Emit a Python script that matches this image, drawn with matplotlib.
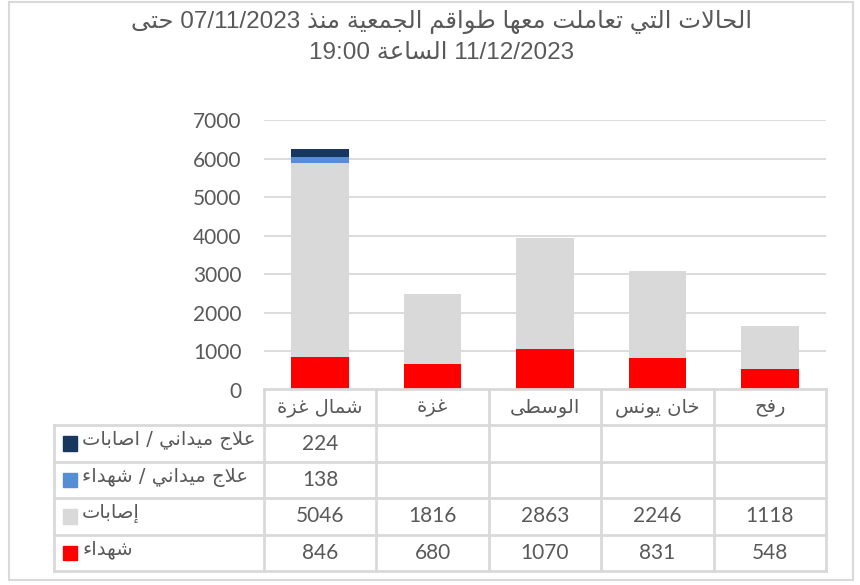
import matplotlib
matplotlib.use('Agg')
import matplotlib.pyplot as plt
from matplotlib.patches import Rectangle

# data
categories = ['شمال غزة', 'غزة', 'الوسطى', 'خان يونس', 'رفح']
shuhada = [846, 680, 1070, 831, 548]
isabat = [5046, 1816, 2863, 2246, 1118]
field_shuhada = [138, 0, 0, 0, 0]
field_isabat = [224, 0, 0, 0, 0]
series_names = ['علاج ميداني / اصابات', 'علاج ميداني / شهداء', 'إصابات', 'شهداء']
title_lines = ['الحالات التي تعاملت معها طواقم الجمعية منذ 07/11/2023 حتى',
               '11/12/2023 الساعة 19:00']
yticks = [0, 1000, 2000, 3000, 4000, 5000, 6000, 7000]

# --- minimal arabic shaping (no raqm in matplotlib) ---
ISO = {'ء': 0xFE80, 'آ': 0xFE81, 'أ': 0xFE83, 'ؤ': 0xFE85, 'إ': 0xFE87, 'ئ': 0xFE89,
       'ا': 0xFE8D, 'ب': 0xFE8F, 'ة': 0xFE93, 'ت': 0xFE95, 'ث': 0xFE99, 'ج': 0xFE9D,
       'ح': 0xFEA1, 'خ': 0xFEA5, 'د': 0xFEA9, 'ذ': 0xFEAB, 'ر': 0xFEAD, 'ز': 0xFEAF,
       'س': 0xFEB1, 'ش': 0xFEB5, 'ص': 0xFEB9, 'ض': 0xFEBD, 'ط': 0xFEC1, 'ظ': 0xFEC5,
       'ع': 0xFEC9, 'غ': 0xFECD, 'ف': 0xFED1, 'ق': 0xFED5, 'ك': 0xFED9, 'ل': 0xFEDD,
       'م': 0xFEE1, 'ن': 0xFEE5, 'ه': 0xFEE9, 'و': 0xFEED, 'ى': 0xFEEF, 'ي': 0xFEF1}
RIGHT_ONLY = set('آأؤإادذرزوة')
LAM_ALEF = {'آ': 0xFEF5, 'أ': 0xFEF7, 'إ': 0xFEF9, 'ا': 0xFEFB}


def joins_next(c):
    return c in ISO and c not in RIGHT_ONLY and c != 'ء'


def joins_prev(c):
    return c in ISO and c != 'ء'


def shape_word(w):
    out = []
    i = 0
    while i < len(w):
        c = w[i]
        prev = w[i - 1] if i > 0 else ''
        nxt = w[i + 1] if i + 1 < len(w) else ''
        pj = joins_next(prev) and joins_prev(c)
        if c == 'ل' and nxt in LAM_ALEF:
            out.append(chr(LAM_ALEF[nxt] + (1 if pj else 0)))
            i += 2
            continue
        if c not in ISO:
            out.append(c)
            i += 1
            continue
        nj = joins_next(c) and joins_prev(nxt)
        base = ISO[c]
        if pj and nj:
            code = base + 3
        elif pj:
            code = base + 1
        elif nj:
            code = base + 2
        else:
            code = base
        out.append(chr(code))
        i += 1
    return ''.join(out)


def ar(s):
    toks = s.split(' ')
    vis = []
    for t in reversed(toks):
        if any(ch in ISO for ch in t):
            vis.append(shape_word(t)[::-1])
        else:
            vis.append(t)
    return ' '.join(vis)


txt_col = '#595959'
grid_col = '#d9d9d9'
colors = ['#17375e', '#558ed5', '#d9d9d9', '#ff0000']
num_font = ['Lato', 'DejaVu Sans']
ar_font = ['DejaVu Sans']
num_fs = 15
ar_fs = 14

W, H = 860, 585
fig = plt.figure(figsize=(8.6, 5.85), dpi=100)

# outer chart border
fig.add_artist(Rectangle((9 / W, 1 - 580 / H), 844 / W, 578 / H, transform=fig.transFigure,
                         fill=False, edgecolor=grid_col, lw=1.5))

for k, line in enumerate(title_lines):
    fig.text(442 / W, 1 - (22 + 31 * k) / H, ar(line), ha='center', va='center',
             fontsize=17.5, color=txt_col, family=['Liberation Sans', 'DejaVu Sans'])

x0, x1 = 264, 826
ax = fig.add_axes([x0 / W, 1 - 390 / H, (x1 - x0) / W, 270 / H])
xs = list(range(len(categories)))
bw = 0.513
ax.bar(xs, shuhada, bw, color=colors[3], zorder=3)
bottom = list(shuhada)
ax.bar(xs, isabat, bw, bottom=bottom, color=colors[2], zorder=3)
bottom = [b + v for b, v in zip(bottom, isabat)]
ax.bar(xs, field_shuhada, bw, bottom=bottom, color=colors[1], zorder=3)
bottom = [b + v for b, v in zip(bottom, field_shuhada)]
ax.bar(xs, field_isabat, bw, bottom=bottom, color=colors[0], zorder=3)

ax.set_xlim(-0.5, len(categories) - 0.5)
ax.set_ylim(0, 7000)
ax.set_yticks(yticks)
ax.set_yticklabels([str(v) for v in yticks], family=num_font, fontsize=num_fs, color=txt_col)
ax.tick_params(axis='y', length=0, pad=16)
ax.set_xticks([])
ax.grid(axis='y', color=grid_col, lw=1.3, zorder=0)
for s in ax.spines.values():
    s.set_visible(False)

# data table below the plot, sharing the category axis
tab = fig.add_axes([x0 / W, 1 - 571 / H, (x1 - x0) / W, 182 / H], sharex=ax)
tab.set_ylim(5, 0)
tab.axis('off')
colw = (x1 - x0) / len(categories)
leg_left = -0.5 - (x0 - 54) / colw
lkw = dict(color=grid_col, lw=2, clip_on=False)
right = len(categories) - 0.5
# horizontal lines
tab.plot([-0.5, right], [0, 0], **lkw)
for r in range(1, 6):
    tab.plot([leg_left, right], [r, r], **lkw)
# vertical lines
tab.plot([leg_left, leg_left], [1, 5], **lkw)
for c in range(len(categories) + 1):
    tab.plot([c - 0.5, c - 0.5], [0, 5], **lkw)

for i, name in enumerate(categories):
    tab.text(i, 0.5, ar(name), ha='center', va='center', fontsize=ar_fs,
             color=txt_col, family=ar_font)

rows = [field_isabat, field_shuhada, isabat, shuhada]
sq_w = 14 / colw
for r, (name, vals, col) in enumerate(zip(series_names, rows, colors)):
    y = r + 1.5
    tab.add_patch(Rectangle((leg_left + 9 / colw, y - 0.2), sq_w, 0.4, color=col, clip_on=False))
    tab.text(leg_left + 28 / colw, y - 0.08, ar(name), ha='left', va='center', fontsize=ar_fs,
             color=txt_col, family=ar_font)
    for i, v in enumerate(vals):
        if v:
            tab.text(i, y, str(v), ha='center', va='center', fontsize=num_fs,
                     color=txt_col, family=num_font)

fig.savefig('out.png', dpi=100)
